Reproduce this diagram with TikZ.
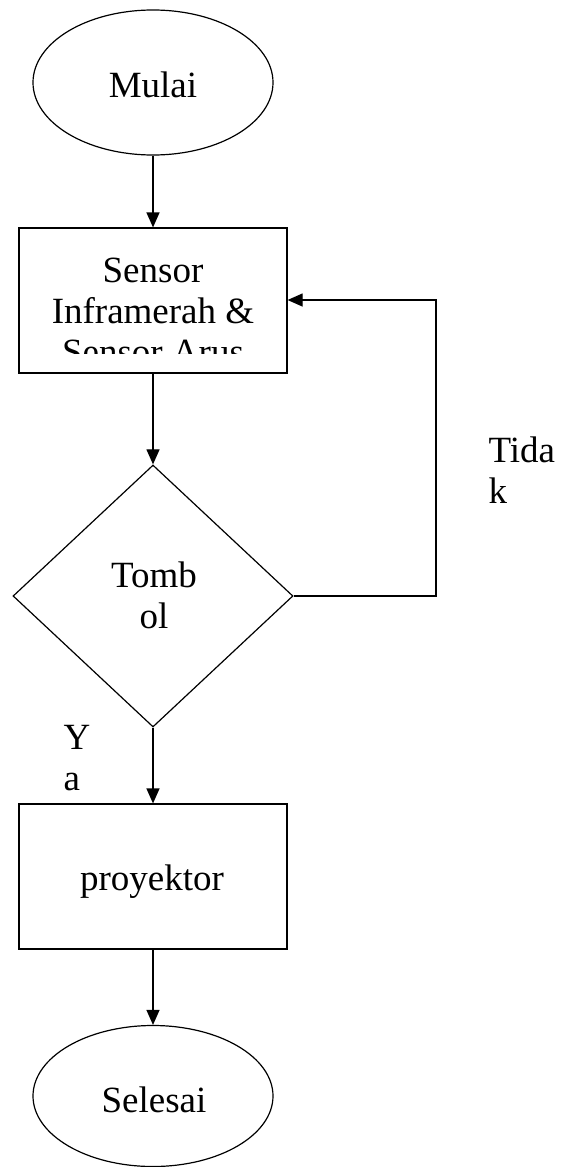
\documentclass[tikz,border=0pt]{standalone}
\usepackage{fontspec}
\setmainfont{Liberation Serif}
\usetikzlibrary{shapes.geometric,arrows.meta}
\begin{document}
\begin{tikzpicture}[x=1pt,y=-1pt,
  line width=1.2pt,
  every node/.style={font=\fontsize{37}{41}\selectfont, inner sep=0pt},
  terminal/.style={draw, ellipse, minimum width=240pt, minimum height=145pt},
  process/.style={draw, rectangle, minimum width=268pt, minimum height=145pt},
  decision/.style={draw, diamond, minimum width=280pt, minimum height=262pt},
  label/.style={align=left, anchor=base west},
  flow/.style={-{Triangle[length=15pt,width=13pt]}}]
  \useasboundingbox (0,0) rectangle (560,1167);

  % shapes (multi-line texts are anchored at the baseline of their last line)
  \node[terminal] (mulai) at (153,82.5) {};
  \node[anchor=base] at (153,97) {Mulai};

  \node[process] (sensor) at (153,300.5) {};
  \begin{scope}
    \clip (19,228) rectangle (287,353);
    \node[align=center, anchor=base] at (153,364) {Sensor\\Inframerah \&\\Sensor Arus};
  \end{scope}

  \node[decision] (tombol) at (153,596) {};
  \node[align=center, anchor=base] at (154,628) {Tomb\\ol};

  \node[process] (proyektor) at (153,876.5) {};
  \node[anchor=base] at (152,890) {proyektor};

  \node[terminal, minimum height=141pt] (selesai) at (153,1096) {};
  \node[anchor=base] at (154,1112) {Selesai};

  % branch labels
  \node[label] (ya) at (63,790) {Y\\a};
  \node[label] (tidak) at (488,503) {Tida\\k};

  % connectors
  \coordinate (loopturn) at (436,300);
  \draw[flow] (mulai) -- (sensor);
  \draw[flow] (sensor) -- (tombol);
  \draw[flow] (tombol) -- (proyektor);
  \draw[flow] (proyektor) -- (selesai);
  \draw[flow] (tombol.east) -| (loopturn) -- (sensor.east |- loopturn);
\end{tikzpicture}
\end{document}
